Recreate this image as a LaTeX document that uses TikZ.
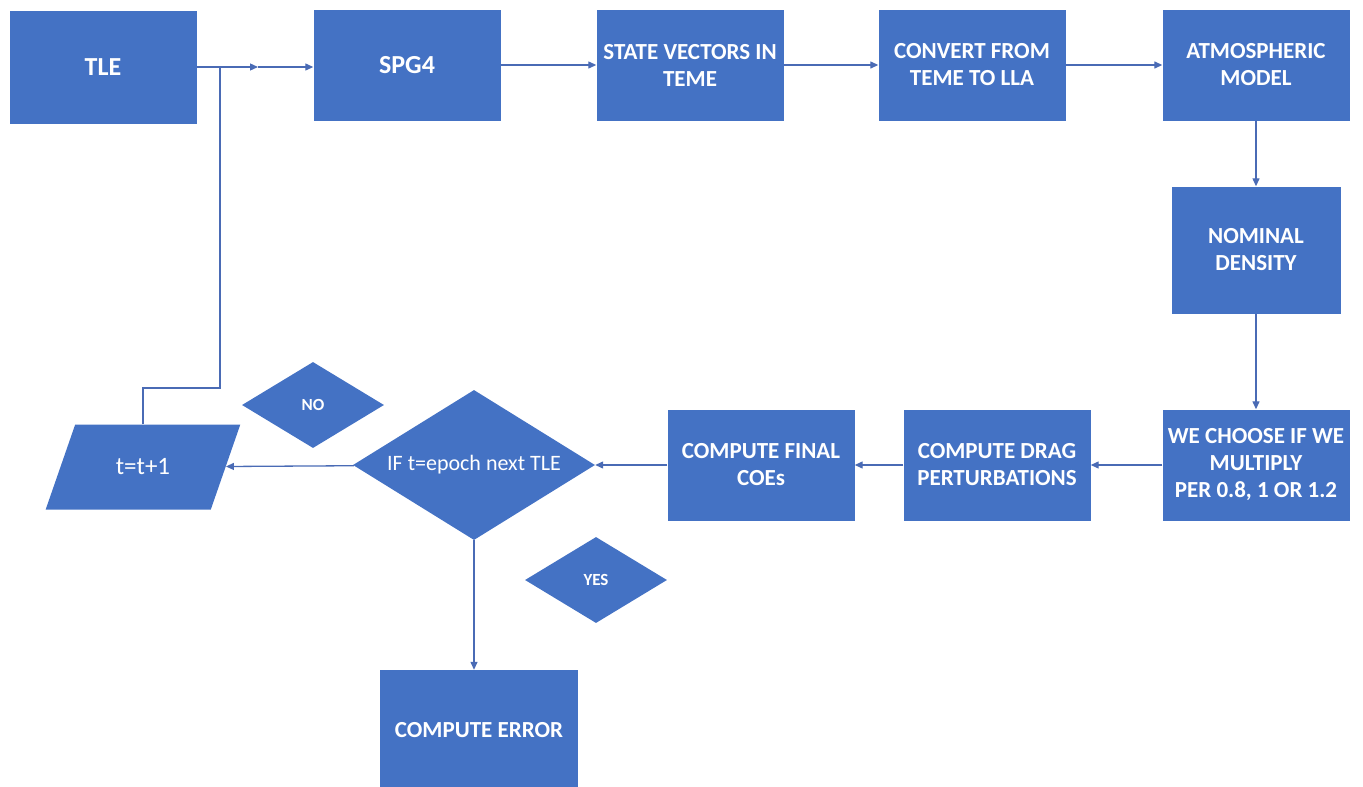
\documentclass[tikz,border=0pt]{standalone}
\usepackage{fontspec}
\setmainfont{Carlito}
\usetikzlibrary{shapes.geometric,arrows.meta}
\definecolor{boxblue}{HTML}{4472C4}
\definecolor{lineblue}{HTML}{4A6BB5}
\begin{document}
\begin{tikzpicture}[x=1pt, y=-1pt,
    every node/.style={fill=boxblue, text=white, font=\fontsize{23}{27}\selectfont\bfseries, align=center, inner sep=0pt},
    box/.style={rectangle, minimum width=187pt, minimum height=111pt},
    decision/.style={diamond, minimum width=242pt, minimum height=150pt},
    tag/.style={diamond, minimum width=142pt, minimum height=86pt, font=\fontsize{17}{20}\selectfont\bfseries},
    io/.style={trapezium, trapezium left angle=54, trapezium right angle=126, trapezium stretches=true, minimum width=195pt, minimum height=85pt},
    flow/.style={draw=lineblue, line width=1.3pt, -{Triangle[length=8pt, width=7pt]}}]
    \useasboundingbox (0,0) rectangle (1363,787);
    % top row
    \node[box, minimum height=113pt, font=\fontsize{26}{30}\selectfont\bfseries] (tle) at (103, 67) {TLE};
    \node[box, font=\fontsize{26}{30}\selectfont\bfseries] (spg4) at (407, 65) {SPG4};
    \node[box] (state) at (690, 65) {STATE VECTORS IN\\TEME};
    \node[box] (convert) at (972, 65) {CONVERT FROM\\TEME TO LLA};
    \node[box] (atmos) at (1256, 65) {ATMOSPHERIC\\MODEL};
    % right column
    \node[box, minimum width=169pt, minimum height=127pt] (nominal) at (1256, 250) {NOMINAL\\DENSITY};
    \node[box] (choose) at (1256, 465) {WE CHOOSE IF WE\\MULTIPLY\\PER 0.8, 1 OR 1.2};
    % bottom row
    \node[box] (drag) at (997, 465) {COMPUTE DRAG\\PERTURBATIONS};
    \node[box] (final) at (761, 465) {COMPUTE FINAL\\COEs};
    \node[decision, font=\fontsize{22}{26}\selectfont] (epoch) at (474, 465) {\makebox[0pt]{IF t=epoch next TLE}};
    \node[io, font=\fontsize{25}{29}\selectfont] (inc) at (143, 467) {t=t+1};
    \node[box, minimum width=198pt, minimum height=120pt] (error) at (479, 730) {COMPUTE ERROR};
    \node[tag] (no) at (313, 405) {NO};
    \node[tag] (yes) at (596, 580) {YES};
    % connectors
    \coordinate (mid) at (258, 67);
    \coordinate (join) at (220, 67);
    \coordinate (bend) at (220, 388);
    \draw[flow] (tle.east |- mid) -- (mid);
    \draw[flow] (mid) -- (spg4.west |- mid);
    \draw[draw=lineblue, line width=1.3pt] (inc.north) |- (bend) -- (join);
    \draw[flow] (spg4) -- (state);
    \draw[flow] (state) -- (convert);
    \draw[flow] (convert) -- (atmos);
    \draw[flow] (atmos) -- (nominal);
    \draw[flow] (nominal) -- (choose);
    \draw[flow] (choose) -- (drag);
    \draw[flow] (drag) -- (final);
    \draw[flow] (final) -- (epoch);
    \draw[flow] (epoch) -- (inc);
    \draw[flow] (epoch.south) -- (epoch.south |- error.north);
\end{tikzpicture}
\end{document}
